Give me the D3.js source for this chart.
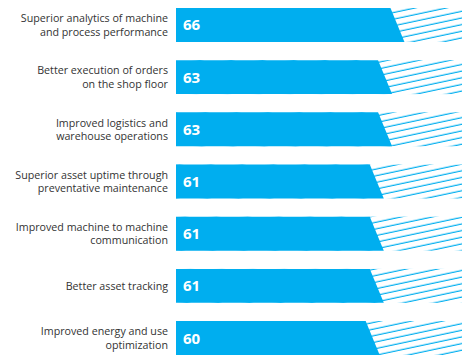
<!DOCTYPE html>
<meta charset="utf-8">
<style>
  body { margin: 0; background: #fff; }
  .label { font-family: "Open Sans", sans-serif; font-size: 10.7px; fill: #333; }
  .value { font-family: "Open Sans", sans-serif; font-size: 15px; font-weight: bold; fill: #fff; }
</style>
<body>
<script src="https://d3js.org/d3.v7.min.js"></script>
<script>
  // categories (label lines) and scores
  var categories = [
    ["Superior analytics of machine", "and process performance"],
    ["Better execution of orders", "on the shop floor"],
    ["Improved logistics and", "warehouse operations"],
    ["Superior asset uptime through", "preventative maintenance"],
    ["Improved machine to machine", "communication"],
    ["Better asset tracking"],
    ["Improved energy and use", "optimization"]
  ];
  var values = [66, 63, 63, 61, 61, 61, 60];

  var width = 475, height = 364;
  var barLeft = 176, hatchRight = 462, slant = 14;
  var blue = "#00aeef";

  var svg = d3.select("body").append("svg")
    .attr("width", width)
    .attr("height", height);

  var y = d3.scaleBand()
    .domain(d3.range(categories.length))
    .range([8, 355])
    .paddingInner(0.35)
    .paddingOuter(0);

  // top edge of the solid bar
  var x = d3.scaleLinear().domain([55, 70]).range([345, 407]);

  // hatch pattern
  var defs = svg.append("defs");
  var pat = defs.append("pattern")
    .attr("id", "hatch")
    .attr("patternUnits", "userSpaceOnUse")
    .attr("width", 30)
    .attr("height", 6.5)
    .attr("patternTransform", "rotate(-12)");
  pat.append("rect")
    .attr("x", 0).attr("y", 2.5)
    .attr("width", 30).attr("height", 1.2)
    .attr("fill", blue);

  var rows = svg.selectAll(".row")
    .data(values)
    .enter().append("g")
    .attr("class", "row");

  // hatched remainder
  rows.append("rect")
    .attr("x", barLeft)
    .attr("y", function(d, i) { return y(i); })
    .attr("width", hatchRight - barLeft)
    .attr("height", y.bandwidth())
    .attr("fill", "url(#hatch)");

  // solid bar with slanted end
  rows.append("path")
    .attr("fill", blue)
    .attr("d", function(d, i) {
      var t = y(i), b = t + y.bandwidth(), xe = x(d);
      return "M" + barLeft + "," + t + "L" + xe + "," + t +
        "L" + (xe + slant) + "," + b + "L" + barLeft + "," + b + "Z";
    });

  rows.append("text")
    .attr("class", "value")
    .attr("x", barLeft + 7)
    .attr("y", function(d, i) { return y(i) + y.bandwidth() / 2 + 5.5; })
    .text(function(d) { return d; });

  // one text per label line
  categories.forEach(function(lines, i) {
    var mid = y(i) + y.bandwidth() / 2;
    var top = mid + 4 - (lines.length - 1) * 6.75;
    svg.selectAll(null)
      .data(lines)
      .enter().append("text")
      .attr("class", "label")
      .attr("text-anchor", "end")
      .attr("x", 168)
      .attr("y", function(d, j) { return top + j * 13.5; })
      .text(function(d) { return d; });
  });
</script>
</body>
